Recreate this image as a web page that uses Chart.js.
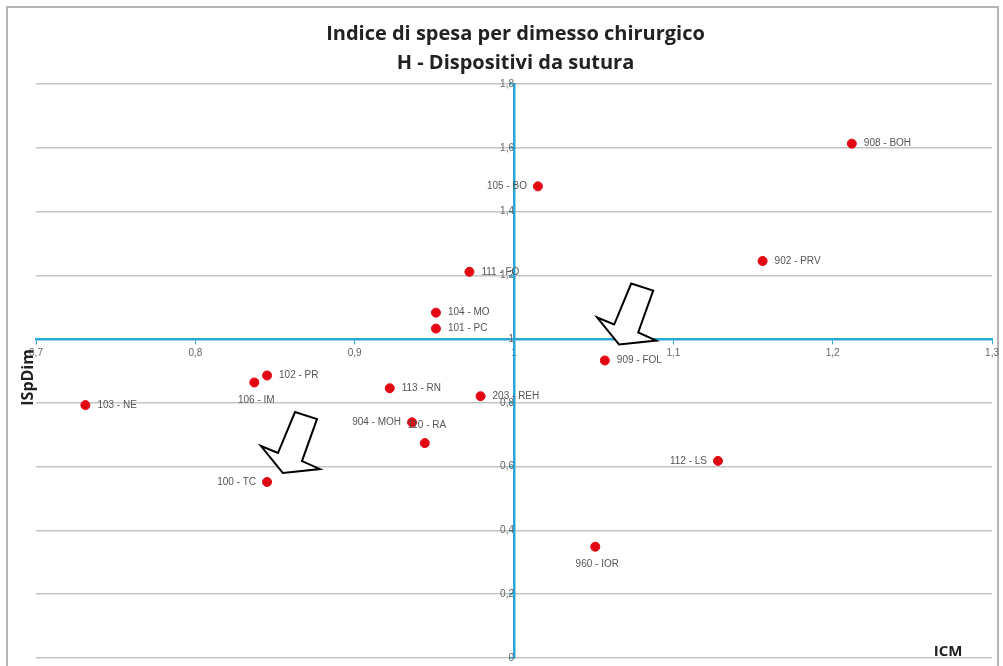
<!DOCTYPE html>
<html>
<head>
<meta charset="utf-8">
<script src="https://cdn.jsdelivr.net/npm/chart.js@4.4.1/dist/chart.umd.min.js"></script>
<style>
  html, body { margin: 0; padding: 0; background: #fff; }
  #wrap { width: 1003px; height: 666px; }
</style>
</head>
<body>
<div id="wrap"><canvas id="chart" width="1003" height="666"></canvas></div>
<script>
// valori
const units = ['908 - BOH', '105 - BO', '902 - PRV', '111 - FO', '104 - MO', '101 - PC', '909 - FOL',
    '102 - PR', '106 - IM', '113 - RN', '103 - NE', '203 - REH', '904 - MOH', '110 - RA',
    '100 - TC', '112 - LS', '960 - IOR'];
const icm = [1.212, 1.015, 1.156, 0.972, 0.951, 0.951, 1.057,
    0.845, 0.837, 0.922, 0.731, 0.979, 0.936, 0.944,
    0.845, 1.128, 1.051];
const ispdim = [1.613, 1.479, 1.245, 1.211, 1.083, 1.033, 0.933,
    0.886, 0.864, 0.846, 0.793, 0.821, 0.739, 0.674,
    0.552, 0.618, 0.349];
const xTicks = [0.7, 0.8, 0.9, 1, 1.1, 1.2, 1.3];
const yTicks = [0, 0.2, 0.4, 0.6, 0.8, 1, 1.2, 1.4, 1.6, 1.8];
// frecce (punta, in coordinate ICM / ISpDim)
const arrowTips = [[1.066, 0.983], [0.855, 0.580]];

// dove scrivere l'etichetta rispetto al punto
const labelSide = {
    '105 - BO': 'left', '904 - MOH': 'left', '100 - TC': 'left', '112 - LS': 'left',
    '106 - IM': 'below', '960 - IOR': 'below', '110 - RA': 'above'
};

const blue = '#2aa7d9';
const fmt = v => String(Math.round(v * 10) / 10).replace('.', ',');

const extras = {
    id: 'extras',
    beforeDraw(chart) {
        const c = chart.ctx;
        c.save();
        c.strokeStyle = '#b4b4b4';
        c.lineWidth = 2;
        c.beginPath();
        c.moveTo(7, 670); c.lineTo(7, 7); c.lineTo(998, 7); c.lineTo(998, 670);
        c.stroke();
        c.restore();
    },
    afterDatasetsDraw(chart) {
        const c = chart.ctx;
        const meta = chart.getDatasetMeta(0);
        c.save();
        c.font = '10px "Liberation Sans", sans-serif';
        c.fillStyle = '#555';
        c.textBaseline = 'middle';
        meta.data.forEach((pt, i) => {
            const side = labelSide[units[i]] || 'right';
            if (side === 'left') {
                c.textAlign = 'right'; c.fillText(units[i], pt.x - 11, pt.y);
            } else if (side === 'below') {
                c.textAlign = 'center'; c.fillText(units[i], pt.x + 2, pt.y + 18);
            } else if (side === 'above') {
                c.textAlign = 'center'; c.fillText(units[i], pt.x + 2, pt.y - 18);
            } else {
                c.textAlign = 'left'; c.fillText(units[i], pt.x + 12, pt.y);
            }
        });
        c.restore();
    },
    afterDraw(chart) {
        const c = chart.ctx;
        const {x, y} = chart.scales;
        const shape = [[0, 0], [-22, -27], [-5, -20], [12, -61], [34, -54], [19, -12], [37, -4]];
        c.save();
        arrowTips.forEach(t => {
            const px = x.getPixelForValue(t[0]);
            const py = y.getPixelForValue(t[1]);
            c.beginPath();
            shape.forEach((s, k) => k ? c.lineTo(px + s[0], py + s[1]) : c.moveTo(px + s[0], py + s[1]));
            c.closePath();
            c.fillStyle = '#fff';
            c.fill();
            c.strokeStyle = '#000';
            c.lineWidth = 2;
            c.stroke();
        });
        // titoli degli assi
        const area = chart.chartArea;
        c.fillStyle = '#222';
        c.font = 'bold 15px "Open Sans", sans-serif';
        c.textAlign = 'center';
        c.textBaseline = 'middle';
        c.fillText('ICM', area.right - 44, area.bottom - 6);
        c.font = 'bold 16px "Open Sans", sans-serif';
        c.translate(area.left - 8, y.getPixelForValue(0.88));
        c.rotate(-Math.PI / 2);
        c.fillText('ISpDim', 0, 0);
        c.restore();
    }
};

new Chart(document.getElementById('chart'), {
    type: 'scatter',
    data: {
        datasets: [{
            label: 'ISpDim',
            data: icm.map((v, i) => ({x: v, y: ispdim[i]})),
            backgroundColor: '#e30613',
            borderColor: '#e30613',
            pointRadius: 4.5,
            pointHoverRadius: 4.5
        }]
    },
    options: {
        responsive: false,
        animation: false,
        layout: {padding: {left: 36, right: 8, top: 4, bottom: 8}},
        plugins: {
            legend: {display: false},
            tooltip: {enabled: false},
            title: {
                display: true,
                text: ['Indice di spesa per dimesso chirurgico', 'H - Dispositivi da sutura'],
                color: '#222',
                font: {family: 'Open Sans', size: 20, weight: 'bold', lineHeight: 1.45},
                padding: {top: 16, bottom: 6}
            }
        },
        scales: {
            x: {
                type: 'linear',
                position: {y: 1},
                min: 0.7,
                max: 1.3,
                afterBuildTicks: s => { s.ticks = xTicks.map(v => ({value: v})); },
                grid: {drawOnChartArea: false, color: blue, tickLength: 4},
                border: {color: blue, width: 2.5},
                ticks: {
                    callback: fmt,
                    color: '#666',
                    font: {family: 'Liberation Sans', size: 10},
                    maxRotation: 0,
                    autoSkip: false,
                    padding: 4
                }
            },
            y: {
                type: 'linear',
                position: {x: 1},
                min: 0,
                max: 1.8,
                afterBuildTicks: s => { s.ticks = yTicks.map(v => ({value: v})); },
                grid: {color: '#c4c4c4', lineWidth: 1.5, tickColor: blue, tickLength: 4},
                border: {color: blue, width: 2.5},
                ticks: {
                    callback: fmt,
                    color: '#666',
                    font: {family: 'Liberation Sans', size: 10},
                    autoSkip: false,
                    padding: 2
                }
            }
        }
    },
    plugins: [extras]
});
</script>
</body>
</html>
